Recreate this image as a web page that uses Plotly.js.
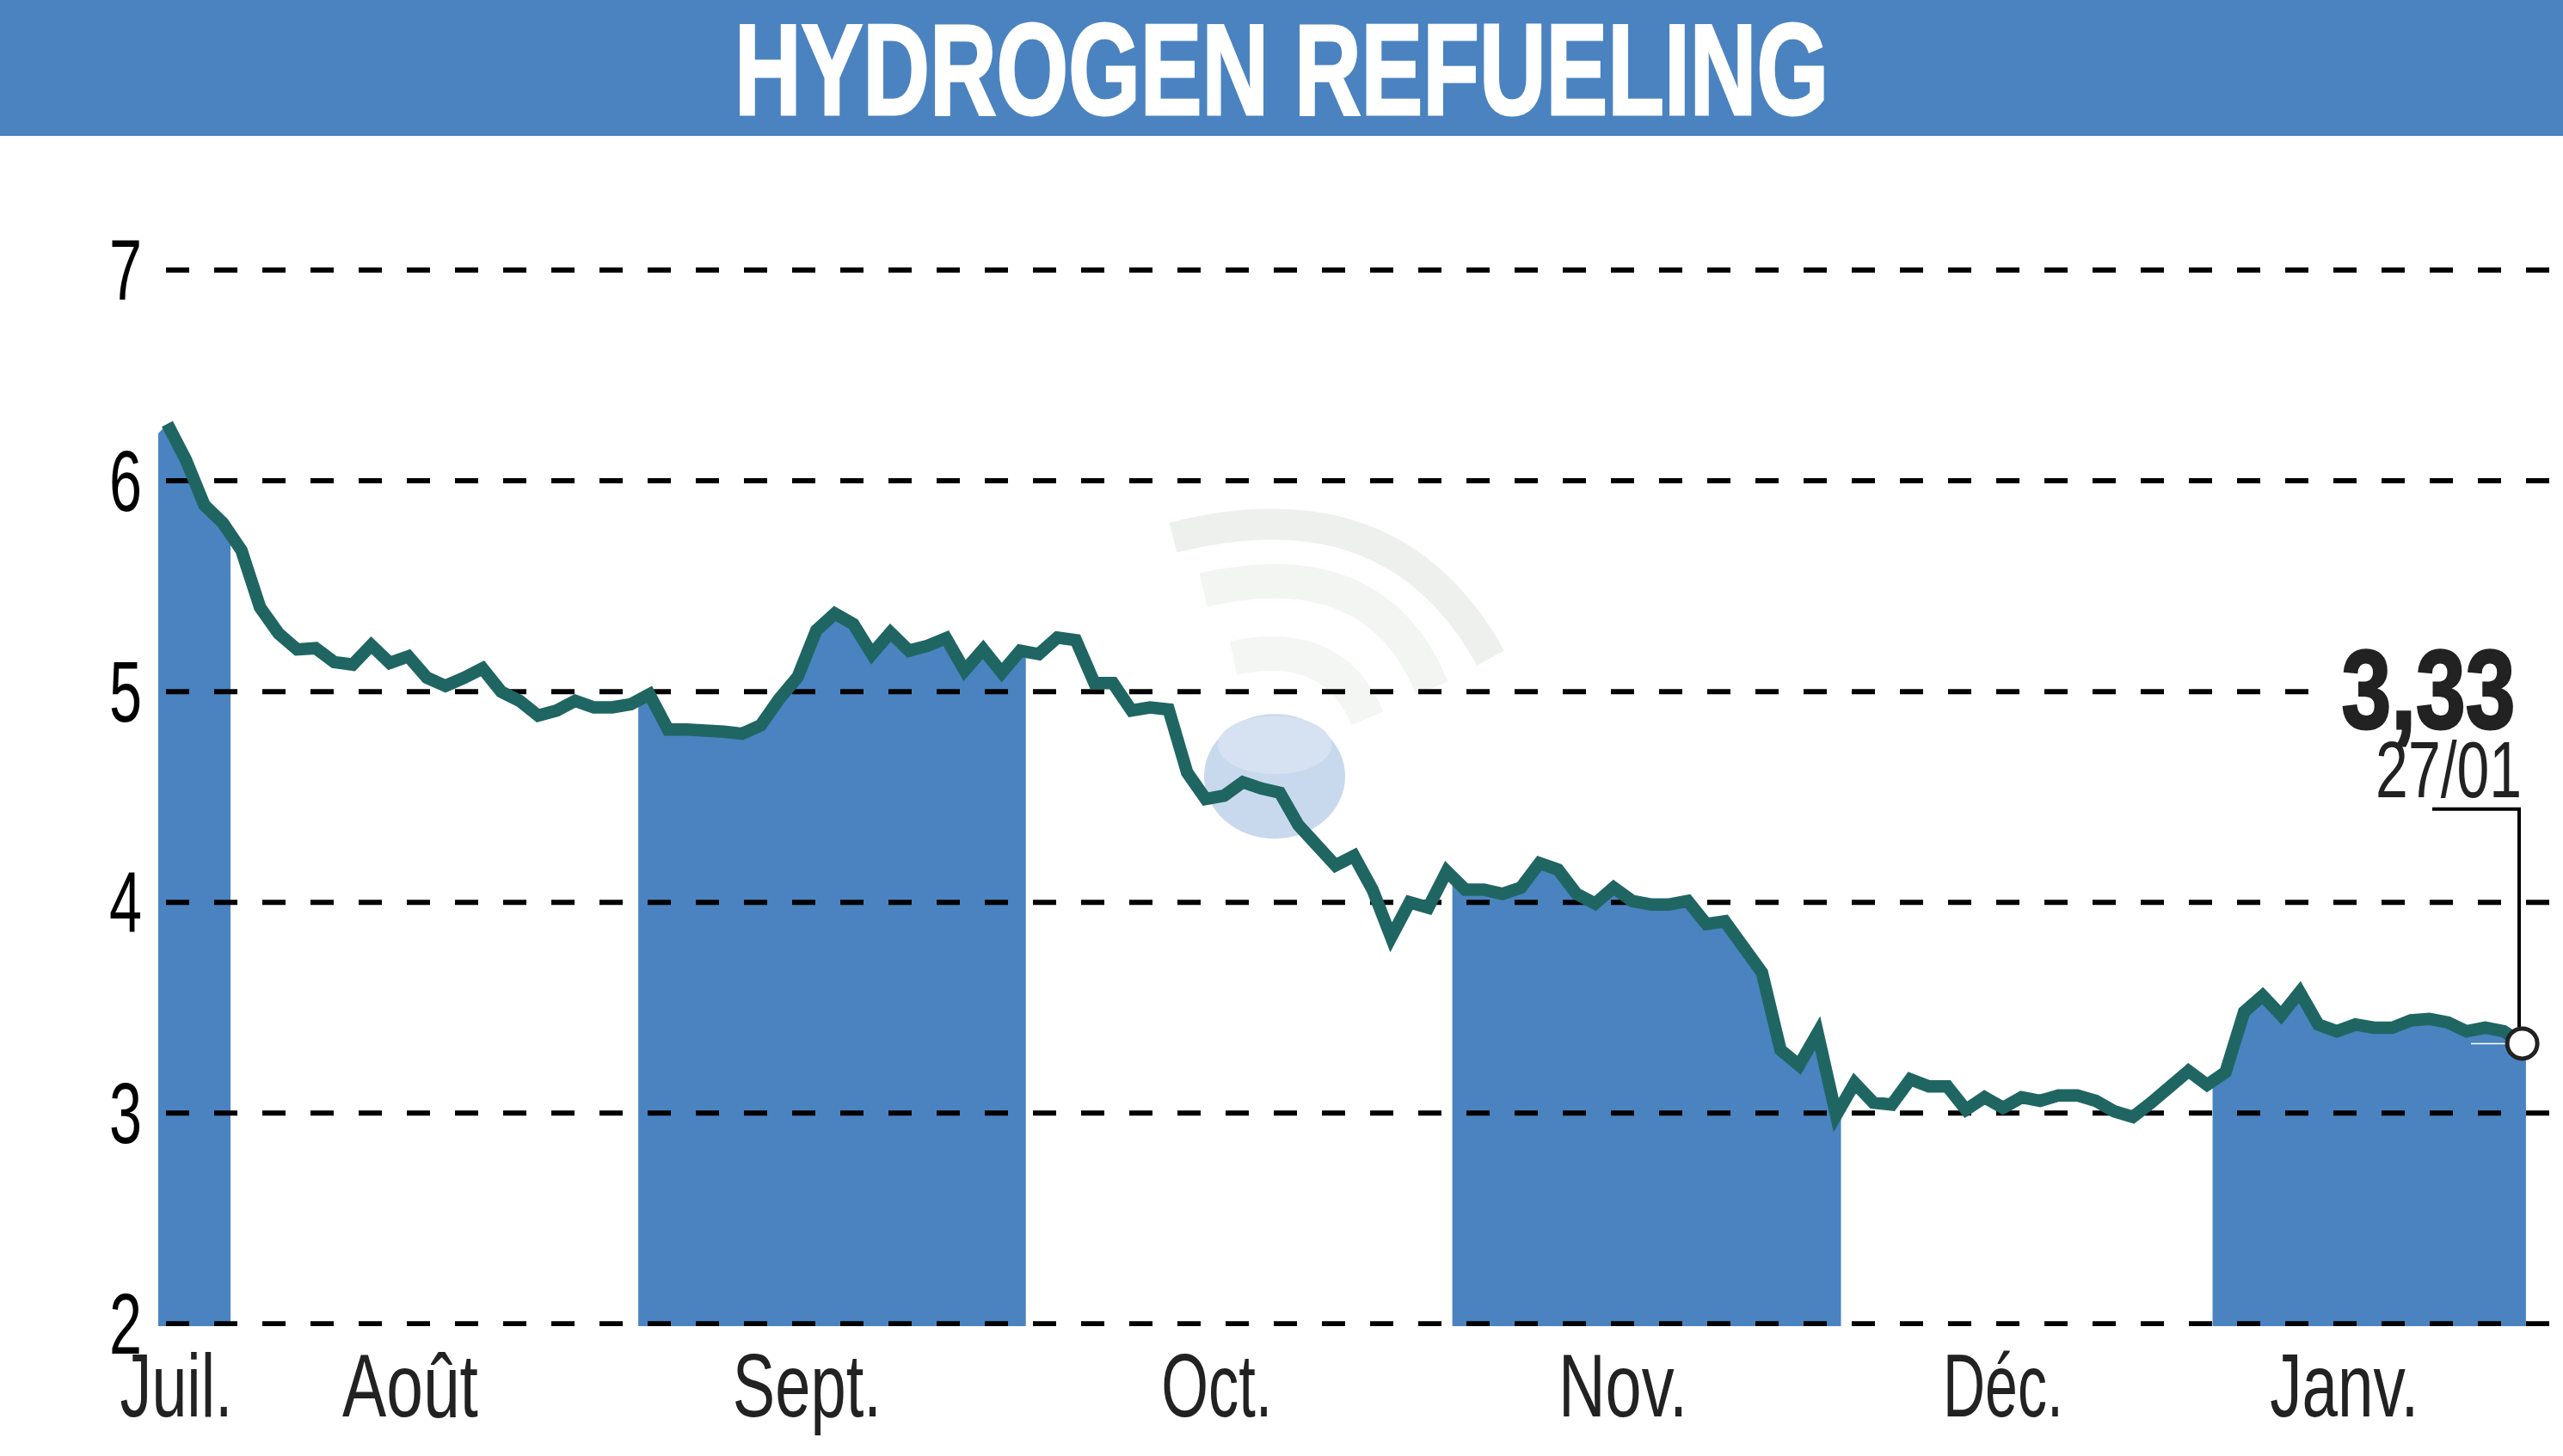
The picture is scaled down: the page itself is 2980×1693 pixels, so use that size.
<!DOCTYPE html>
<html>
<head>
<meta charset="utf-8">
<script src="https://cdn.plot.ly/plotly-3.0.1.min.js"></script>
<style>html,body{margin:0;padding:0;background:#fff}#chart{width:2980px;height:1693px}</style>
</head>
<body>
<div id="chart"></div>
<script>
const chartTitle = "HYDROGEN REFUELING";
const closes = [
 6.27,6.10,5.885,5.80,5.67,5.40,5.276,5.20,5.206,5.14,5.128,5.22,5.136,5.167,5.066,5.027,5.065,5.11,5.00,4.956,
 4.886,4.91,4.956,4.925,4.925,4.94,4.987,4.82,4.82,4.82,4.81,4.80,4.84,4.965,5.07,5.29,5.37,5.32,
 5.178,5.28,5.194,5.217,5.253,5.10,5.20,5.09,5.194,5.178,5.256,5.244,5.04,5.04,4.91,4.925,4.915,4.616,4.49,4.506,
 4.57,4.54,4.52,4.366,4.264,4.175,4.22,4.06,3.834,4.00,3.975,4.147,4.06,4.06,4.04,4.07,4.186,4.155,4.04,3.994,
 4.07,4.006,3.99,3.99,4.006,3.897,
 3.91,3.794,3.667,3.30,3.227,3.38,2.99,3.143,3.05,3.04,3.16,3.126,3.126,3.016,3.075,3.025,3.075,3.058,3.084,3.084,
 3.058,3.008,2.982,3.05,3.134,3.20,3.134,3.194,3.48,3.557,3.464,3.574,3.42,3.388,3.42,3.405,3.405,3.44,3.447,3.43,
 3.388,3.405,3.388,3.33];
const yTicks = [2,3,4,5,6,7];
const monthLabels = ["Juil.","Août","Sept.","Oct.","Nov.","Déc.","Janv."];
const monthLabelPos = [0.49,13.1,34.5,56.6,78.5,99,117.4];
const monthEdges = [-0.487,3.41,25.4,46.3,69.3,90.26,110.3,127.2];
const filledMonths = [0,2,4,6];
const firstBandTop = 6.225;
const lastValueLabel = "3,33";
const lastDateLabel = "27/01";

const monthLabelWidths = [131,158,173,129,150,140,173];

const W=2980,H=1693,L=184,T=158,B=1541.7;
const X0=194.5,DX=21.56,Y2=1539,DY=245;
const xOf=p=>(p-X0)/DX, yOf=p=>2+(Y2-p)/DY;
const days=closes.map((_,i)=>i);
const valueAt=x=>{const a=Math.max(0,Math.min(closes.length-2,Math.floor(x)));return closes[a]+(closes[a+1]-closes[a])*(x-a);};

const BLUE='#4a83c0',GREEN='#1f6663',INK='#222222',FONT='"Liberation Sans Narrow","Liberation Sans",sans-serif';
const traces=[];
filledMonths.forEach(m=>{
  const a=monthEdges[m],b=monthEdges[m+1];
  const ix=days.filter(d=>d>a&&d<b);
  traces.push({type:'scatter',mode:'none',fill:'tozeroy',fillcolor:BLUE,hoverinfo:'skip',showlegend:false,
    x:[a,...ix,b],y:[m===0?firstBandTop:valueAt(a),...ix.map(d=>closes[d]),valueAt(b)]});
});
const xR=[xOf(L),xOf(W)];
yTicks.forEach(v=>traces.push({type:'scatter',mode:'lines',x:[xOf(193),xR[1]],y:[v,v],hoverinfo:'skip',showlegend:false,
  line:{color:'#000',width:6,dash:'27px,29px'}}));
traces.push({type:'scatter',mode:'lines',x:[xOf(2873),xOf(2919)],y:[3.33,3.33],hoverinfo:'skip',showlegend:false,line:{color:'#fff',width:1.5}});
traces.push({type:'scatter',mode:'lines',x:days,y:closes,showlegend:false,line:{color:GREEN,width:14.5,shape:'linear'}});
traces.push({type:'scatter',mode:'lines',x:[xOf(2828),xOf(2929),xOf(2929)],y:[yOf(940.5),yOf(940.5),3.33],hoverinfo:'skip',showlegend:false,line:{color:'#000',width:4}});
traces.push({type:'scatter',mode:'markers',x:[days[days.length-1]],y:[closes[closes.length-1]],hoverinfo:'skip',showlegend:false,
  marker:{size:35,color:'#fff',line:{color:INK,width:5}}});

const P=(x,y)=>xOf(x)+','+yOf(y);
const arc=(a,c,e,color,w)=>({type:'path',layer:'below',xref:'x',yref:'y',
  path:'M'+P(a[0],a[1])+' Q'+P(c[0],c[1])+' '+P(e[0],e[1]),line:{color,width:w},fillcolor:'rgba(0,0,0,0)'});
const ell=(x0,x1,y0,y1,color)=>({type:'circle',layer:'below',xref:'x',yref:'y',x0:xOf(x0),x1:xOf(x1),y0:yOf(y1),y1:yOf(y0),fillcolor:color,line:{width:0}});
const shapes=[
 {type:'rect',layer:'below',xref:'paper',yref:'paper',x0:-L/(W-L),x1:1,y0:1,y1:1+T/(B-T),fillcolor:BLUE,line:{width:0}},
 arc([1364,625],[1620,560],[1733,765],'#eef0ed',36),
 arc([1399,686],[1600,640],[1665,800],'#f2f5f2',40),
 arc([1434,765],[1550,740],[1590,835],'#f3f6f3',40),
 ell(1400,1564,830,975,'#c8d9ee'),
 ell(1416,1548,832,900,'#d6e2f1'),
 {type:'rect',layer:'above',xref:'x',yref:'y',x0:xOf(2697),x1:xOf(2968),y0:yOf(812),y1:yOf(796),fillcolor:'#fff',line:{width:0}}
];

const layout={
  width:W,height:H,autosize:false,showlegend:false,paper_bgcolor:'#fff',plot_bgcolor:'rgba(0,0,0,0)',
  margin:{l:L,r:0,t:T,b:H-B,pad:0},hovermode:false,
  title:{text:chartTitle,x:0.5,xref:'container',xanchor:'center',y:1-80/H,yref:'container',yanchor:'middle',
    font:{family:FONT,size:150,color:'#fff',weight:700}},
  xaxis:{range:xR,showgrid:false,zeroline:false,showline:false,tickmode:'array',tickvals:monthLabelPos,ticktext:monthLabels,
    ticks:'',ticklen:0,ticklabelstandoff:0,tickfont:{family:FONT,size:104,color:INK}},
  yaxis:{range:[yOf(B),yOf(T)],showgrid:false,zeroline:false,showline:false,tickmode:'array',tickvals:yTicks,ticktext:yTicks.map(String),
    ticks:'',ticklen:0,ticklabelstandoff:18,tickfont:{family:FONT,size:100,color:'#000'}},
  shapes,
  annotations:[
   {xref:'paper',yref:'paper',x:(2823-L)/(W-L),y:(B-802)/(B-T),xanchor:'center',yanchor:'middle',showarrow:false,text:lastValueLabel,
     font:{family:FONT,size:130,color:INK,weight:700}},
   {xref:'paper',yref:'paper',x:(2847-L)/(W-L),y:(B-895)/(B-T),xanchor:'center',yanchor:'middle',showarrow:false,text:lastDateLabel,
     font:{family:FONT,size:92,color:INK}}
  ]
};
Plotly.newPlot('chart',traces,layout,{staticPlot:true,displayModeBar:false}).then(gd=>{
  const fit=(el,w)=>{el.setAttribute('textLength',w);el.setAttribute('lengthAdjust','spacingAndGlyphs');};
  const heavy=(el,c,w)=>{el.style.stroke=c;el.style.strokeWidth=w+'px';};
  gd.querySelectorAll('.gtitle').forEach(el=>{fit(el,1272);heavy(el,'#fff',3);});
  gd.querySelectorAll('.xtick text').forEach((el,i)=>fit(el,monthLabelWidths[i]));
  gd.querySelectorAll('.ytick text').forEach(el=>fit(el,38));
  const ann=gd.querySelectorAll('.annotation-text');
  fit(ann[0],202); heavy(ann[0],INK,3); fit(ann[1],170);
  gd.querySelectorAll('.js-line').forEach(el=>{if(parseFloat(el.style.strokeWidth)>10){el.style.strokeLinejoin='miter';el.style.strokeMiterlimit='3';}});
});
</script>
</body>
</html>
